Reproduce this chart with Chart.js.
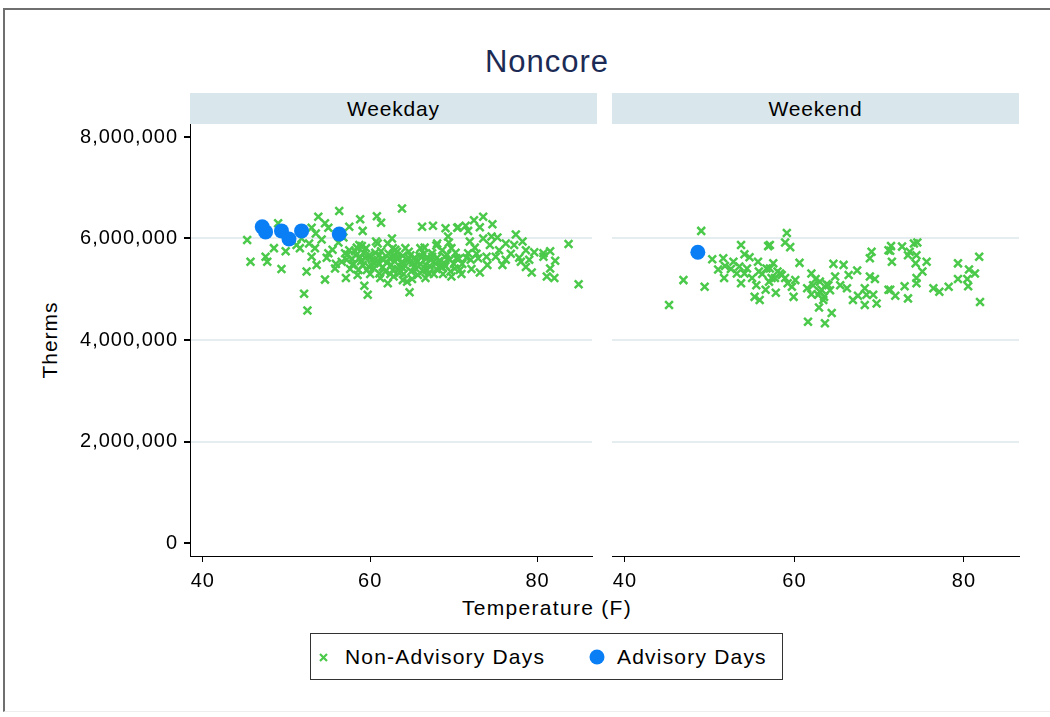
<!DOCTYPE html>
<html>
<head>
<meta charset="utf-8">
<script src="https://cdn.jsdelivr.net/npm/chart.js@4.4.0/dist/chart.umd.min.js"></script>
<style>
  body { margin:0; width:1050px; height:717px; position:relative; overflow:hidden; background:#fff;
         font-family:"Liberation Sans", Arial, sans-serif; color:#000; }
  .abs { position:absolute; }
  #frame { left:3px; top:8px; width:1100px; height:701px; border-top:2px solid #6f6f6f; border-left:2px solid #6f6f6f; border-bottom:1px solid #eeeeee; }
  #title { left:347px; top:44px; width:400px; text-align:center; font-size:31px; line-height:36px; color:#1c2b55; letter-spacing:1px; }
  .strip { top:93px; width:407px; height:31px; line-height:31px; background:#d9e6ec; text-align:center; font-size:21px; letter-spacing:0.8px; }
  #ytitle { left:0px; top:328px; width:100px; height:24px; line-height:24px; text-align:center; font-size:21px; letter-spacing:1px; transform:rotate(-90deg); }
  #xtitle { left:397px; top:596px; width:300px; height:24px; line-height:24px; text-align:center; font-size:21px; letter-spacing:1.3px; }
  #legend { left:310px; top:633px; width:473px; height:47px; border:1px solid #333; box-sizing:border-box; font-size:21px; letter-spacing:1.2px; }
  #legend span { position:absolute; top:11px; line-height:24px; white-space:nowrap; }
</style>
</head>
<body>
<div id="frame" class="abs"></div>
<div id="title" class="abs">Noncore</div>
<div class="abs strip" style="left:190px">Weekday</div>
<div class="abs strip" style="left:612px">Weekend</div>
<div id="ytitle" class="abs">Therms</div>
<div id="xtitle" class="abs">Temperature (F)</div>
<div id="legend" class="abs">
  <svg class="abs" style="left:8px;top:19px" width="9" height="9"><path d="M1 1L8 8M8 1L1 8" stroke="#4bc94a" stroke-width="2.2"/></svg>
  <span style="left:34px">Non-Advisory Days</span>
  <svg class="abs" style="left:278px;top:15px" width="16" height="16"><circle cx="8" cy="8" r="7.5" fill="#0a7ff5"/></svg>
  <span style="left:306px">Advisory Days</span>
</div>
<canvas id="weekday" class="abs" style="left:0px;top:94px" width="600" height="520"></canvas>
<canvas id="weekend" class="abs" style="left:600px;top:94px" width="440" height="520"></canvas>

<script>
// tick labels / axis values
var xTicks = [40, 60, 80];
var yTicks = [0, 2000000, 4000000, 6000000, 8000000];
var yGrid = [2000000, 4000000, 6000000];

// Weekday, non-advisory days
var weekdayTemp = [
  45.3,45.7,47.5,47.7,49.0,48.5,49.4,52.4,52.1,52.5,
  54.6,49.9,51.2,51.6,53.0,53.8,54.6,55.0,56.3,53.4,
  53.0,53.6,55.0,55.8,56.6,57.1,57.0,58.8,60.8,61.3,
  59.3,59.7,63.8,57.5,59.1,66.2,67.5,69.0,70.4,69.3,
  64.7,60.7,62.1,62.7,64.2,66.0,68.0,68.6,69.7,58.7,
  57.5,58.3,59.9,61.1,62.3,63.4,64.8,66.2,67.4,68.9,
  70.3,57.9,59.1,60.5,61.5,62.7,63.8,65.2,66.6,67.8,
  61.1,62.1,64.4,66.6,69.7,58.5,59.5,63.2,65.6,67.0,
  68.6,70.1,73.5,72.4,73.1,74.6,70.5,71.4,71.7,73.5,
  74.5,75.2,77.4,78.2,71.9,72.5,74.3,76.2,77.2,75.4,
  78.6,79.6,80.7,81.5,83.7,71.7,72.9,73.9,75.0,76.2,
  78.0,79.0,80.7,82.1,70.7,70.9,72.1,73.1,74.0,75.8,
  78.6,79.3,81.5,81.1,82.0,84.9,
  57.8,58.2,58.9,59.4,59.8,60.2,60.6,61.0,61.4,61.8,
  62.0,62.5,62.9,63.3,63.7,64.0,64.4,64.9,65.3,65.7,
  66.0,66.4,66.8,67.2,67.6,68.0,68.4,68.8,69.2,69.6,
  70.0,60.0,61.2,62.8,63.9,65.0,58.6,59.0,60.9,62.6,
  63.0,64.6,66.5,67.9,69.4,56.2,56.8,57.3,55.5,55.9,
  54.8,54.2,53.5,52.7,51.8,
  57.2,57.6,58.0,58.4,58.8,59.2,59.6,60.1,60.4,60.8,
  61.3,61.6,62.2,62.4,62.9,63.1,63.5,63.9,64.2,64.7,
  65.1,65.5,65.9,66.3,66.7,67.1,67.4,67.9,68.2,68.7,
  69.0,69.5,70.2,70.6,71.0,71.5,72.0,72.7,76.8,77.8
];
var weekdayTherms = [
  5970000,5540000,5640000,5540000,6300000,5810000,5400000,5350000,4910000,4580000,
  5190000,5750000,5870000,5810000,6210000,6430000,6300000,6210000,6540000,5810000,
  5640000,5480000,5710000,5410000,5540000,5220000,5710000,6380000,6440000,6310000,
  5070000,4890000,6590000,6230000,6150000,6230000,6250000,6200000,6210000,6040000,
  4940000,5940000,5900000,5810000,5810000,5810000,5900000,5770000,5810000,5870000,
  5770000,5670000,5670000,5670000,5610000,5610000,5670000,5640000,5710000,5640000,
  5610000,5480000,5480000,5510000,5440000,5380000,5440000,5440000,5480000,5510000,
  5310000,5120000,5150000,5220000,5250000,5280000,5810000,5740000,5540000,5310000,
  5440000,5410000,6430000,6360000,6220000,6280000,6220000,6250000,6150000,6000000,
  6040000,6020000,6080000,5940000,5940000,5820000,5870000,5900000,5870000,5770000,
  5770000,5730000,5710000,5750000,5890000,5710000,5610000,5640000,5640000,5580000,
  5540000,5580000,5640000,5560000,5380000,5300000,5400000,5330000,5480000,5480000,
  5440000,5330000,5410000,5250000,5220000,5100000,
  5600000,5750000,5550000,5620000,5450000,5580000,5720000,5500000,5600000,5350000,
  5520000,5480000,5650000,5400000,5520000,5300000,5580000,5350000,5620000,5280000,
  5500000,5700000,5380000,5580000,5300000,5620000,5450000,5520000,5680000,5350000,
  5500000,5300000,5220000,5250000,5180000,5200000,5380000,5850000,5900000,6000000,
  5780000,5740000,5820000,5860000,5920000,5920000,6020000,5680000,5780000,5500000,
  5620000,5980000,6100000,5900000,6000000,
  5580000,5400000,5500000,5820000,5620000,5720000,5380000,5640000,5420000,5550000,
  5750000,5580000,5700000,5300000,5550000,5620000,5320000,5660000,5460000,5600000,
  5520000,5400000,5660000,5360000,5600000,5460000,5640000,5400000,5550000,5300000,
  5460000,5580000,5720000,5600000,5500000,5620000,5580000,5700000,5700000,5620000
];
// Weekday, advisory days
var weekdayAdvTemp = [47.1, 47.5, 49.4, 50.3, 51.8, 56.3];
var weekdayAdvTherms = [6230000, 6130000, 6150000, 5990000, 6150000, 6090000];

// Weekend, non-advisory days
var weekendTemp = [
  49.0,46.9,45.2,49.4,50.3,51.6,51.0,51.8,51.7,52.8,
  53.2,53.7,54.1,54.7,54.4,53.7,55.0,55.7,55.5,55.3,
  55.9,56.9,56.7,57.3,56.6,54.1,
  59.1,58.9,59.5,57.1,57.5,57.1,58.3,57.7,58.9,57.8,
  59.7,60.1,59.9,60.6,62.0,62.2,63.0,63.2,62.8,62.9,
  63.4,61.6,63.6,64.4,64.6,65.8,64.8,64.0,65.4,66.2,
  66.4,67.4,66.9,67.5,68.3,68.9,69.5,68.5,69.3,69.7,
  68.3,69.1,68.9,71.1,71.1,
  71.4,71.3,72.7,74.1,74.5,73.6,74.4,73.4,71.5,74.3,
  75.6,75.1,74.4,74.4,73.0,71.3,71.9,73.4,76.4,77.1,
  78.2,79.3,79.3,80.6,81.3,80.4,80.5,81.8,81.9,
  58.0,58.5,59.2,61.5,62.5,63.0,63.8,64.2,62.0,63.5,
  57.0,56.2,55.8,53.5,52.5
];
var weekendTherms = [
  6150000,5180000,4690000,5050000,5590000,5610000,5390000,5460000,5220000,5540000,
  5310000,5870000,5690000,5630000,5410000,5120000,5220000,5540000,5080000,4850000,
  4790000,5850000,5410000,5220000,4990000,5310000,
  6110000,5920000,5830000,5870000,5510000,5410000,5310000,5220000,5220000,4930000,
  5050000,5180000,4850000,5520000,5310000,5080000,5150000,4990000,4890000,4640000,
  4790000,4360000,4330000,4530000,5500000,5480000,5250000,5080000,5080000,5020000,
  5280000,5370000,4790000,4870000,5020000,5250000,5200000,4890000,4890000,4720000,
  4690000,5740000,5610000,4990000,5770000,
  5850000,5760000,5840000,5900000,5920000,5740000,5670000,5670000,5540000,5510000,
  5540000,5350000,5220000,5120000,5060000,4990000,4870000,4820000,5020000,4950000,
  5050000,5200000,5510000,5390000,5310000,5200000,5060000,5640000,4750000,
  5350000,5280000,5120000,5020000,5200000,4950000,5100000,4980000,4900000,4850000,
  5150000,5300000,5350000,5450000,5400000
];
// Weekend, advisory days
var weekendAdvTemp = [48.6];
var weekendAdvTherms = [5730000];

var fontFamily = '"Liberation Sans", Arial, sans-serif';
var green = '#4bc94a';
var blue = '#0a7ff5';

function pts(xs, ys) {
    return xs.map(function (x, i) { return { x: x, y: ys[i] }; });
}

// wider glyph spacing, like the original export
var spacing = {
    id: 'spacing',
    beforeUpdate: function (c) { c.ctx.letterSpacing = '1px'; },
    beforeDraw: function (c) { c.ctx.letterSpacing = '1px'; }
};

function makePanel(id, temp, therms, advTemp, advTherms, showY) {
    new Chart(id, {
        type: 'scatter',
        plugins: [spacing],
        data: {
            datasets: [
                {
                    label: 'Advisory Days',
                    data: pts(advTemp, advTherms),
                    pointStyle: 'circle',
                    pointRadius: 7.5,
                    pointBorderWidth: 0,
                    backgroundColor: blue,
                    borderColor: blue,
                    order: 0
                },
                {
                    label: 'Non-Advisory Days',
                    data: pts(temp, therms),
                    pointStyle: 'crossRot',
                    pointRadius: 5.5,
                    pointBorderWidth: 2.5,
                    borderColor: green,
                    backgroundColor: green,
                    order: 1
                }
            ]
        },
        options: {
            responsive: false,
            animation: false,
            layout: { padding: { left: 0, right: showY ? 3 : 21, top: 30, bottom: 0 } },
            plugins: { legend: { display: false }, tooltip: { enabled: false } },
            scales: {
                x: {
                    type: 'linear',
                    min: 38.47,
                    max: 86.5,
                    afterBuildTicks: function (a) { a.ticks = xTicks.map(function (v) { return { value: v }; }); },
                    afterFit: function (s) { s.height = 58; },
                    border: { color: '#000', width: 1 },
                    grid: { drawOnChartArea: false, color: '#000', tickColor: '#000', tickLength: 6 },
                    ticks: { color: '#000', padding: 7, font: { size: 20, family: fontFamily } }
                },
                y: {
                    type: 'linear',
                    min: -256000,
                    max: 8256000,
                    afterBuildTicks: function (a) { a.ticks = yTicks.map(function (v) { return { value: v }; }); },
                    afterFit: function (s) { s.width = showY ? 190 : 12; },
                    border: { display: showY, color: '#000', width: 1 },
                    grid: {
                        color: function (ctx) {
                            return ctx.tick && yGrid.indexOf(ctx.tick.value) >= 0 ? '#e6edf0' : 'rgba(0,0,0,0)';
                        },
                        lineWidth: 2,
                        tickColor: showY ? '#000' : 'rgba(0,0,0,0)',
                        tickLength: 6
                    },
                    ticks: {
                        display: showY,
                        color: '#000',
                        padding: 6,
                        font: { size: 20, family: fontFamily },
                        callback: function (v) { return Number(v).toLocaleString('en-US'); }
                    }
                }
            }
        }
    });
}

makePanel('weekday', weekdayTemp, weekdayTherms, weekdayAdvTemp, weekdayAdvTherms, true);
makePanel('weekend', weekendTemp, weekendTherms, weekendAdvTemp, weekendAdvTherms, false);
</script>
</body>
</html>
